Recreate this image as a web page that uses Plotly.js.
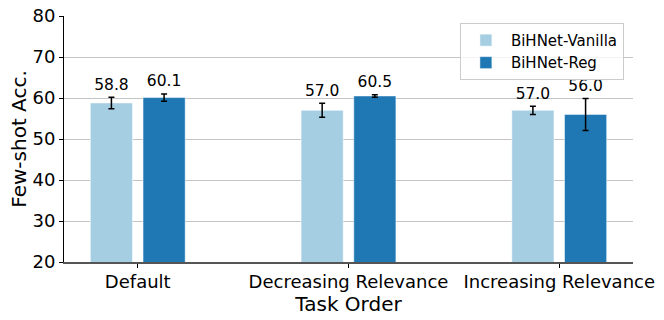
<!DOCTYPE html>
<html>
<head>
<meta charset="utf-8">
<script src="https://cdn.plot.ly/plotly-3.0.1.min.js"></script>
<style>
  html, body { margin: 0; padding: 0; background: #fff; }
  #chart { width: 664px; height: 320px; }
</style>
</head>
<body>
<div id="chart"></div>
<script>
// Task orders on the x axis
const taskOrders = ["Default", "Decreasing Relevance", "Increasing Relevance"];

// Few-shot accuracy per method, with std used for the error bars
const vanillaAcc = [58.8, 57.0, 57.0];
const vanillaStd = [1.4, 1.7, 1.0];
const regAcc = [60.1, 60.5, 56.0];
const regStd = [0.9, 0.3, 3.9];

const yTicks = [20, 30, 40, 50, 60, 70, 80];

const font = "DejaVu Sans, Liberation Sans, sans-serif";
const labelPad = 0.9; // small gap between error cap and value label, in y units

function barTrace(name, y, err, color, offset) {
  return {
    type: "bar",
    name: name,
    x: taskOrders,
    y: y,
    base: 0,
    width: 0.2,
    offset: offset,
    marker: { color: color, line: { color: "rgba(255,255,255,0.5)", width: 1 } },
    error_y: { type: "data", array: err, visible: true, color: "#000", thickness: 1.5, width: 3 },
    hovertemplate: name + ": %{y:.1f}<extra></extra>",
  };
}

// value labels sit just above the top of each error bar
function labelTrace(y, err, shift) {
  return {
    type: "scatter",
    mode: "text",
    x: taskOrders.map((_, i) => i + shift),
    y: y.map((v, i) => v + err[i] + labelPad),
    xaxis: "x2",
    text: y.map((v) => v.toFixed(1)),
    textposition: "top center",
    textfont: { family: font, size: 15.5, color: "#000" },
    showlegend: false,
    hoverinfo: "skip",
    cliponaxis: false,
  };
}

const traces = [
  barTrace("BiHNet-Vanilla", vanillaAcc, vanillaStd, "#a6cee3", -0.225),
  barTrace("BiHNet-Reg", regAcc, regStd, "#1f78b4", 0.025),
  labelTrace(vanillaAcc, vanillaStd, -0.125),
  labelTrace(regAcc, regStd, 0.125),
];

const layout = {
  width: 664,
  height: 320,
  margin: { l: 64, r: 31, t: 16, b: 58 },
  paper_bgcolor: "#fff",
  plot_bgcolor: "#fff",
  font: { family: font, size: 18, color: "#000" },
  showlegend: true,
  xaxis: {
    type: "category",
    range: [-0.35, 2.35],
    showgrid: false,
    zeroline: false,
    showline: true,
    linecolor: "#555",
    linewidth: 1.5,
    ticks: "outside",
    ticklen: 4,
    tickcolor: "#000",
    ticklabelstandoff: -1,
    tickfont: { family: font, size: 18 },
    title: { text: "Task Order", font: { family: font, size: 20 }, standoff: 2 },
  },
  xaxis2: {
    overlaying: "x",
    range: [-0.35, 2.35],
    visible: false,
  },
  yaxis: {
    range: [20, 80],
    tickvals: yTicks,
    showgrid: true,
    gridcolor: "#c4c4c4",
    gridwidth: 1,
    zeroline: false,
    showline: true,
    linecolor: "#000",
    linewidth: 1,
    ticks: "outside",
    ticklen: 4,
    tickcolor: "#000",
    tickfont: { family: font, size: 18 },
    title: { text: "Few-shot Acc.", font: { family: font, size: 20 }, standoff: 0 },
  },
  legend: {
    x: 0.984,
    xanchor: "right",
    y: 0.972,
    yanchor: "top",
    bgcolor: "rgba(255,255,255,0.8)",
    bordercolor: "#cccccc",
    borderwidth: 1,
    itemwidth: 40,
    font: { family: font, size: 15 },
    traceorder: "normal",
  },
};

Plotly.newPlot("chart", traces, layout, { displayModeBar: false, staticPlot: true });
</script>
</body>
</html>
